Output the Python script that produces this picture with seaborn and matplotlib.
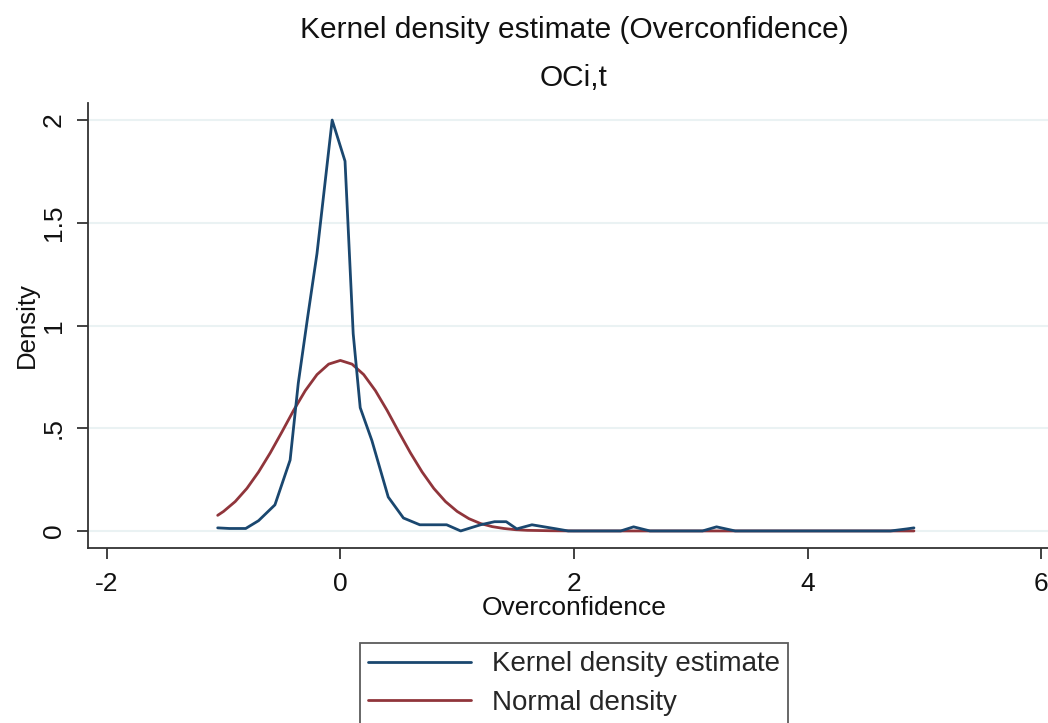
import matplotlib
matplotlib.use("Agg")
import matplotlib.pyplot as plt
import seaborn as sns
import pandas as pd
from matplotlib.lines import Line2D

# Kernel density estimate (blue)
kde_x = [-1.05, -0.95, -0.81, -0.70, -0.56, -0.43, -0.36, -0.28, -0.20, -0.07,
         0.04, 0.11, 0.17, 0.27, 0.41, 0.54, 0.68, 0.91, 1.03, 1.20,
         1.32, 1.42, 1.51, 1.64, 1.85, 1.95, 2.40, 2.51, 2.65, 3.10,
         3.22, 3.38, 4.71, 4.85, 4.91]
kde_y = [0.015, 0.012, 0.012, 0.05, 0.127, 0.345, 0.72, 1.04, 1.35, 2.00,
         1.80, 0.96, 0.60, 0.44, 0.165, 0.063, 0.03, 0.03, 0.0, 0.03,
         0.045, 0.045, 0.01, 0.03, 0.01, 0.0, 0.0, 0.02, 0.0, 0.0,
         0.02, 0.0, 0.0, 0.01, 0.015]

# Normal density (red)
norm_x = [-1.05, -1.0, -0.9, -0.8, -0.7, -0.6, -0.5, -0.4, -0.3, -0.2, -0.1, 0.0,
          0.1, 0.2, 0.3, 0.4, 0.5, 0.6, 0.7, 0.8, 0.9, 1.0, 1.1, 1.2, 1.3, 1.4,
          1.5, 1.6, 1.8, 2.0, 4.91]
norm_y = [0.076, 0.095, 0.143, 0.207, 0.287, 0.380, 0.482, 0.587, 0.683, 0.761, 0.812, 0.83,
          0.812, 0.761, 0.683, 0.587, 0.482, 0.380, 0.287, 0.207, 0.143, 0.095, 0.060, 0.036, 0.021, 0.012,
          0.006, 0.003, 0.001, 0.0, 0.0]

x_ticks = [-2, 0, 2, 4, 6]
y_ticks = [0, 0.5, 1, 1.5, 2]
y_tick_labels = ["0", ".5", "1", "1.5", "2"]

title = "Kernel density estimate (Overconfidence)"
subtitle = "OCi,t"
series_names = ["Kernel density estimate", "Normal density"]

sns.set_style("white")
plt.rcParams['font.family'] = ['Liberation Sans', 'DejaVu Sans']

BLUE = "#1a476f"
RED = "#90353b"

W, H = 1048, 723
fig = plt.figure(figsize=(W / 100, H / 100), dpi=100)
fig.patch.set_facecolor("white")

left, right, top, bottom = 88, 1060, 103, 548
ax = fig.add_axes([left / W, 1 - bottom / H, (right - left) / W, (bottom - top) / H])

df_kde = pd.DataFrame({"x": kde_x, "y": kde_y})
df_norm = pd.DataFrame({"x": norm_x, "y": norm_y})

for yt in y_ticks:
    ax.axhline(yt, color="#eaf2f3", lw=1.5, zorder=0)

sns.lineplot(data=df_norm, x="x", y="y", ax=ax, color=RED, lw=2.0, sort=False, estimator=None)
sns.lineplot(data=df_kde, x="x", y="y", ax=ax, color=BLUE, lw=2.0, sort=False, estimator=None)

ax.set_xlim(-2.16, 6.16)
ax.set_ylim(-0.083, 2.083)
ax.set_xticks(x_ticks)
ax.set_xticklabels([str(t) for t in x_ticks])
ax.set_yticks(y_ticks)
ax.set_yticklabels(y_tick_labels, rotation=90, va="center")

for s in ["top", "right"]:
    ax.spines[s].set_visible(False)
for s in ["left", "bottom"]:
    ax.spines[s].set_color("#333333")
    ax.spines[s].set_linewidth(1.3)

ax.tick_params(axis="both", direction="out", length=8, width=1.3, color="#333333",
               labelsize=19, labelcolor="#111111")
ax.tick_params(axis="x", bottom=True, pad=9.5)
ax.tick_params(axis="y", left=True, pad=8)

ax.set_xlabel("Overconfidence", fontsize=19, color="#111111", labelpad=0)
ax.set_ylabel("Density", fontsize=18.5, color="#111111", labelpad=2)

fig.text(574 / W, 1 - 30 / H, title, ha="center", va="center", fontsize=21.5, color="#111111")
fig.text(574 / W, 1 - 78 / H, subtitle, ha="center", va="center", fontsize=21.5, color="#111111")

handles = [Line2D([0], [0], color=BLUE, lw=2.0), Line2D([0], [0], color=RED, lw=2.0)]
leg = fig.legend(handles, series_names, loc="upper center", bbox_to_anchor=(574 / W, 1 - 643 / H),
                 fontsize=20, frameon=True, fancybox=False, edgecolor="#333333",
                 handlelength=3.7, handletextpad=0.75, borderpad=0.3, borderaxespad=0,
                 labelspacing=0.45)
leg.get_frame().set_linewidth(1.3)

fig.savefig("out.png", dpi=100, facecolor="white")
